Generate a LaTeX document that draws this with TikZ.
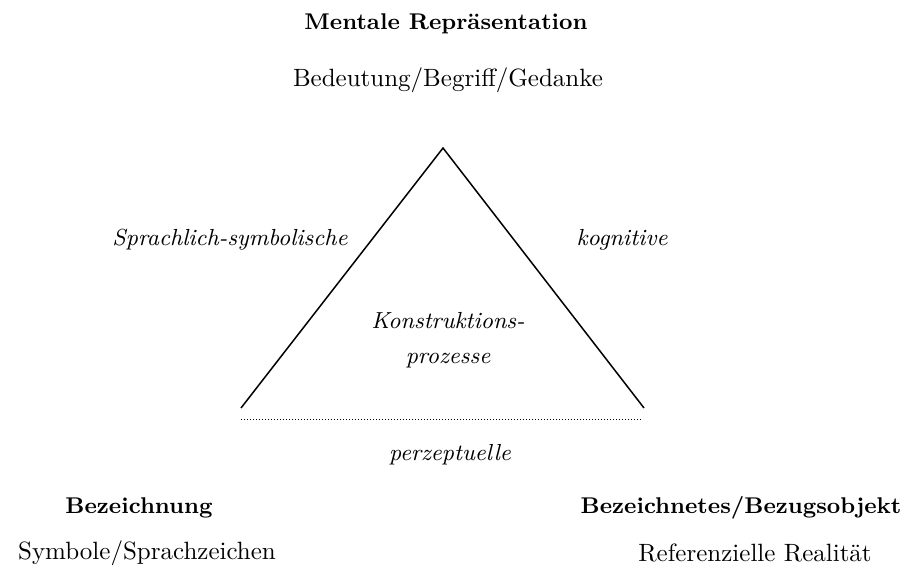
\documentclass[tikz,border=0pt]{standalone}
\usepackage{tikz}
\tikzset{
	lbl/.style={inner sep=0pt, font=\fontsize{10}{12}\selectfont},
	hd/.style={lbl, font=\fontsize{9.1}{11}\selectfont\bfseries},
	it/.style={lbl, font=\fontsize{9.3}{14}\selectfont\itshape}
}
\begin{document}
\begin{tikzpicture}[x=0.4pt, y=-0.4pt, line width=0.6pt]
			\useasboundingbox (0,0) rectangle (904,573);
			% triangle
			\coordinate (t) at (443,148);
			\coordinate (l) at (241,408);
			\coordinate (r) at (644,408);
			\coordinate (dl) at (241,419);
			\coordinate (dr) at (642,419);
			\draw (l) -- (t) -- (r);
			\draw[line width=0.4pt, dash pattern=on 0.4pt off 0.8pt] (dl) -- (dr);
			% corners
			\node[hd] (m) at (446,24) {Mentale Repräsentation};
			\node[lbl] (mb) at (448,80) {Bedeutung/Begriff/Gedanke};
			\node[hd] (s) at (139,508) {Bezeichnung};
			\node[lbl] (sb) at (147,553) {Symbole/Sprachzeichen};
			\node[hd] (o) at (741,508) {Bezeichnetes/Bezugsobjekt};
			\node[lbl] (ob) at (755,553) {Referenzielle Realität};
			% sides
			\node[it] (sp) at (230,240) {Sprachlich-symbolische};
			\node[it] (kg) at (622,240) {kognitive};
			\node[it] (pz) at (450,455) {perzeptuelle};
			\node[it, align=center] (kp) at (448,340) {Konstruktions-\\prozesse};
		\end{tikzpicture}
\end{document}
